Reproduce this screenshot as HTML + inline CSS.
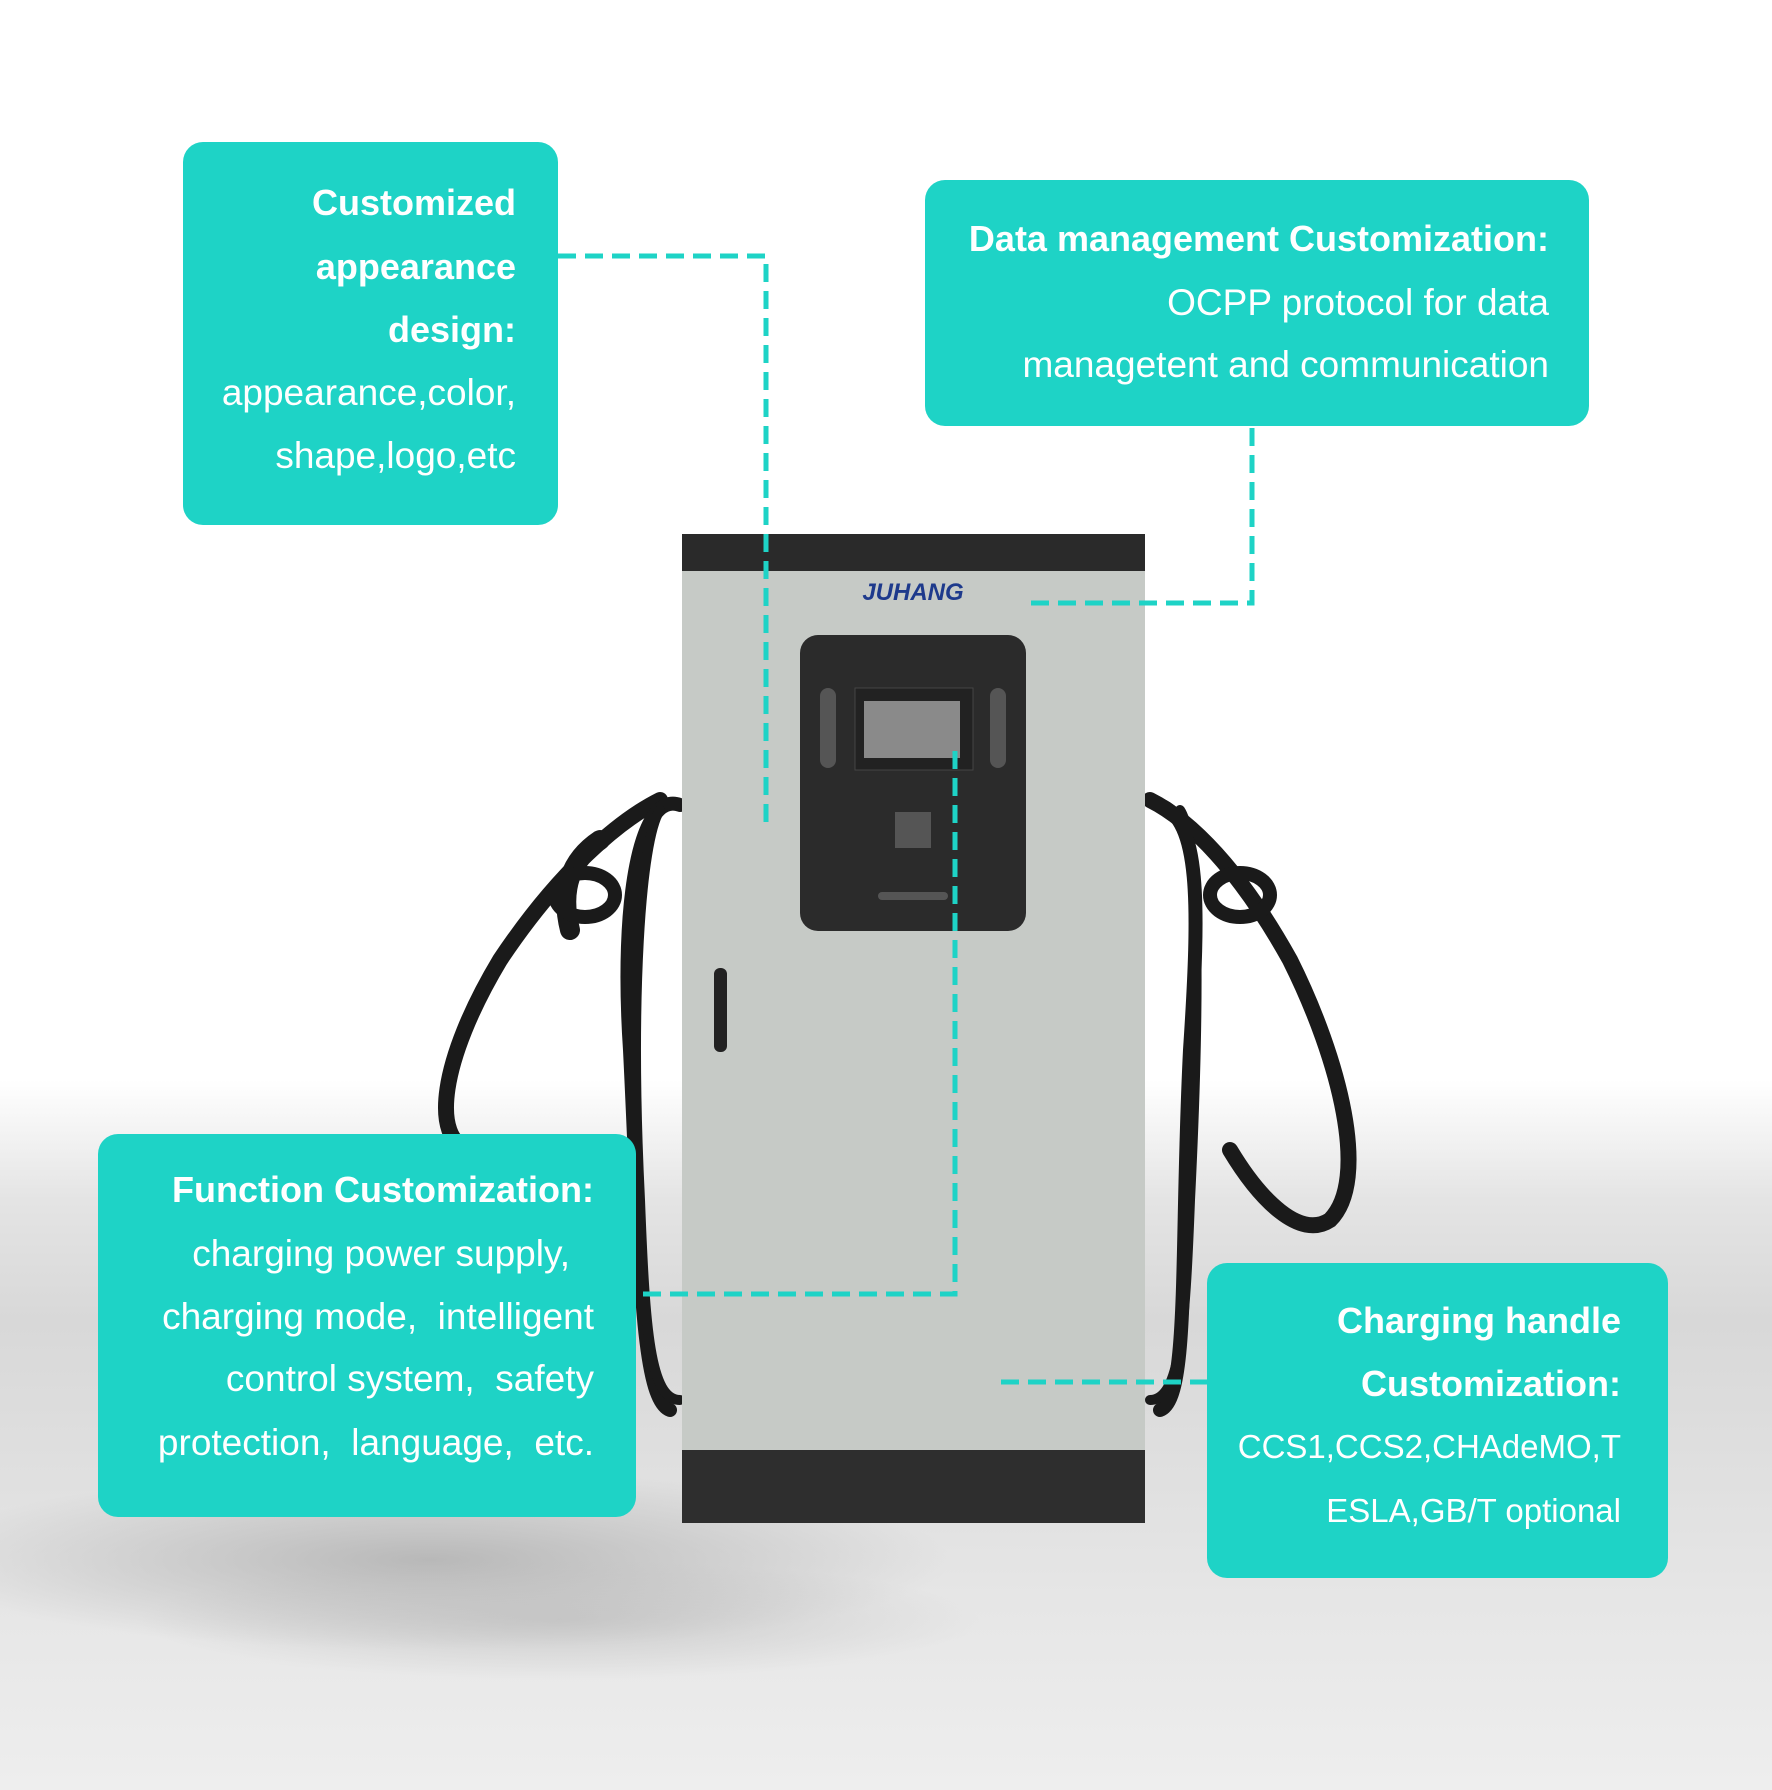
<!DOCTYPE html>
<html><head><meta charset="utf-8"><style>
html,body{margin:0;padding:0}
body{width:1772px;height:1790px;position:relative;overflow:hidden;font-family:"Liberation Sans","DejaVu Sans",sans-serif;
background:linear-gradient(#ffffff 0px,#ffffff 1080px,#e4e4e4 1200px,#d8d8d8 1320px,#e6e6e6 1600px,#eeeeee 1790px);}
.box{position:absolute;background:#1ed3c6;border-radius:20px;color:#fff;text-align:right;box-sizing:border-box}
.box div{position:absolute;right:0;white-space:nowrap;font-size:37px;line-height:40px}
.box div.b{font-weight:bold;font-size:36px}
.box div.s{font-size:33px}
svg{position:absolute;left:0;top:0}
</style></head><body>
<svg width="1772" height="1790">
<defs>
<radialGradient id="sh" cx="0.5" cy="0.5" r="0.5"><stop offset="0" stop-color="#b8b8b8"/><stop offset="1" stop-color="#b8b8b8" stop-opacity="0"/></radialGradient>
</defs>
<ellipse cx="430" cy="1560" rx="520" ry="90" fill="url(#sh)"/>
<ellipse cx="560" cy="1620" rx="420" ry="60" fill="url(#sh)" opacity="0.6"/>
<g fill="none" stroke="#1a1a1a" stroke-linecap="round">
<path d="M660 800 C620 820 560 870 500 960 C440 1060 430 1140 470 1150" stroke-width="16"/>
<path d="M680 805 C640 790 620 900 630 1050 C640 1250 640 1400 670 1410" stroke-width="14"/>
<path d="M660 810 C640 840 630 1000 640 1200 C645 1330 650 1400 680 1400" stroke-width="10"/>
<path d="M600 840 C570 860 560 890 570 930" stroke-width="20"/>
<path d="M1150 800 C1190 820 1240 870 1290 960 C1340 1060 1370 1180 1330 1220 C1300 1240 1260 1200 1230 1150" stroke-width="16"/>
<path d="M1160 805 C1200 820 1200 900 1190 1050 C1180 1250 1190 1400 1160 1410" stroke-width="14"/>
<path d="M1180 810 C1200 840 1200 1000 1190 1200 C1185 1330 1180 1400 1150 1400" stroke-width="10"/>
</g>
<ellipse cx="585" cy="895" rx="30" ry="22" fill="none" stroke="#1a1a1a" stroke-width="14"/>
<ellipse cx="1240" cy="895" rx="30" ry="22" fill="none" stroke="#1a1a1a" stroke-width="14"/>
<rect x="682" y="534" width="463" height="989" fill="#c6cac6"/>
<rect x="682" y="534" width="463" height="37" fill="#2a2a2a"/>
<rect x="682" y="1450" width="463" height="73" fill="#2e2e2e"/>
<rect x="800" y="635" width="226" height="296" rx="18" fill="#2b2b2b"/>
<rect x="855" y="688" width="118" height="82" fill="#222" stroke="#444"/>
<rect x="864" y="701" width="96" height="57" fill="#8a8a8a"/>
<rect x="820" y="688" width="16" height="80" rx="8" fill="#555"/>
<rect x="990" y="688" width="16" height="80" rx="8" fill="#555"/>
<rect x="895" y="812" width="36" height="36" fill="#555"/>
<rect x="878" y="892" width="70" height="8" rx="4" fill="#555"/>
<rect x="714" y="968" width="13" height="84" rx="6" fill="#222"/>
<text x="913" y="600" font-family="Liberation Sans" font-weight="bold" font-style="italic" font-size="24" fill="#1e3a8c" text-anchor="middle">JUHANG</text>
<g fill="none" stroke="#1ed3c6" stroke-width="5" stroke-dasharray="18 9">
<path d="M558 256 H766 V831"/>
<path d="M1252 428 V603 H1022"/>
<path d="M955 751 V1294 H636"/>
<path d="M1001 1382 H1207"/>
</g>
</svg>
<div class="box" style="left:183px;top:142px;width:375px;height:383px">
<div class="b" style="right:42px;top:41px">Customized</div>
<div class="b" style="right:42px;top:105px">appearance</div>
<div class="b" style="right:42px;top:168px">design:</div>
<div style="right:42px;top:231px">appearance,color,</div>
<div style="right:42px;top:294px">shape,logo,etc</div>
</div>
<div class="box" style="left:925px;top:180px;width:664px;height:246px">
<div class="b" style="right:40px;top:39px">Data management Customization:</div>
<div style="right:40px;top:103px">OCPP protocol for data</div>
<div style="right:40px;top:165px">managetent and communication</div>
</div>
<div class="box" style="left:98px;top:1134px;width:538px;height:383px">
<div class="b" style="right:42px;top:36px">Function Customization:</div>
<div style="right:66px;top:100px">charging power supply,</div>
<div style="right:42px;top:163px">charging mode,&nbsp;&nbsp;intelligent</div>
<div style="right:42px;top:225px">control system,&nbsp;&nbsp;safety</div>
<div style="right:42px;top:289px">protection,&nbsp;&nbsp;language,&nbsp;&nbsp;etc.</div>
</div>
<div class="box" style="left:1207px;top:1263px;width:461px;height:315px">
<div class="b" style="right:47px;top:38px">Charging handle</div>
<div class="b" style="right:47px;top:101px">Customization:</div>
<div class="s" style="right:47px;top:164px">CCS1,CCS2,CHAdeMO,T</div>
<div class="s" style="right:47px;top:228px">ESLA,GB/T optional</div>
</div>
</body></html>
